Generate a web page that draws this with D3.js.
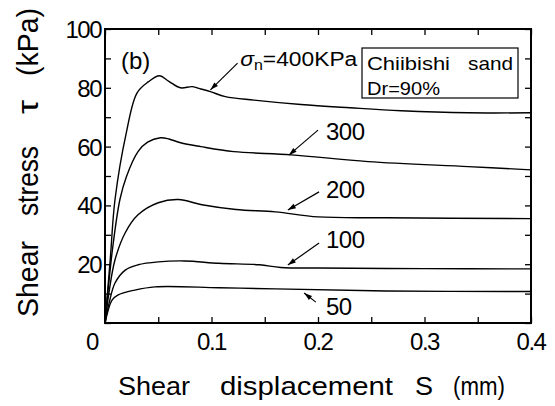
<!DOCTYPE html>
<html><head><meta charset="utf-8">
<script src="https://cdn.jsdelivr.net/npm/d3@7"></script>
<style>
body{margin:0;background:#fff;}
text{font-family:"Liberation Sans",Arial,sans-serif;fill:#000;}
</style></head><body>
<svg id="c" width="555" height="406"></svg>
<script>
// Data (shear displacement S in mm, shear stress tau in kPa)
const s400 = [0,0.005,0.0094,0.02,0.03,0.0406,0.051,0.06,0.0708,0.082,0.09,0.099,0.113,0.14,0.184,0.23,0.278,0.341,0.4];
const t400 = [0,22,42,64.7,78.2,82,84.1,82.2,80,80.4,79.6,78.7,77,75.8,74.3,73.2,72.2,71.5,71.5];
const s300 = [0,0.007,0.014,0.02,0.031,0.04,0.052,0.06,0.071,0.09,0.121,0.175,0.247,0.341,0.4];
const t300 = [0,25,42,49.7,58.3,61.5,63,62.6,61.3,60,58.3,57.2,54.9,53.2,52.1];
const s200 = [0,0.004,0.0094,0.019,0.031,0.05,0.069,0.091,0.123,0.16,0.2,0.264,0.4];
const t200 = [0,11,21.5,30.7,36.8,40.9,42,40.2,38.6,37.8,36.1,35.8,35.5];
const s100 = [0,0.004,0.0094,0.019,0.031,0.05,0.075,0.107,0.145,0.165,0.2,0.3,0.4];
const t100 = [0,7,13.6,18,19.8,20.8,21.1,20.3,19.8,18.9,18.7,18.5,18.4];
const s50 = [0,0.0066,0.012,0.028,0.047,0.107,0.16,0.264,0.4];
const t50 = [0,7.8,9.5,11.2,12.3,12,11.6,10.9,10.7];

const xTickVals = [0,0.1,0.2,0.3,0.4];
const xTickLabels = ["0","0.1","0.2","0.3","0.4"];
const yTickVals = [20,40,60,80,100];
const yTickLabels = ["20","40","60","80","100"];

// Curve labels and their arrows (in data units)
const curveLabels = ["300","200","100","50"];
const labelS = [0.2075,0.2075,0.2075,0.2075];
const labelT = [62.2,42.5,25.5,2.7];
const arrFromS = [0.200,0.201,0.201,0.198];
const arrFromT = [65.6,44.6,27.2,7.1];
const arrToS = [0.1726,0.1717,0.1717,0.187];
const arrToT = [57.1,38.4,19.7,10.2];

const svg = d3.select("#c");
const L=105, R=531, T=29, B=323;
const x = d3.scaleLinear().domain([0,0.4]).range([L,R]);
const y = d3.scaleLinear().domain([0,100]).range([B,T]);

const defs = svg.append("defs");
defs.append("marker").attr("id","ah").attr("viewBox","0 0 10 10").attr("refX",10).attr("refY",5)
  .attr("markerWidth",10).attr("markerHeight",8).attr("markerUnits","userSpaceOnUse").attr("orient","auto")
  .append("path").attr("d","M0,1.8 L10,5 L0,8.2 Z").attr("fill","#000");

// Axes with inward ticks on all four sides
const minorX = d3.range(0,0.4001,0.05);
const minorY = d3.range(0,100.1,10);
const tk = g=>{g.select(".domain").remove();g.selectAll("line").attr("stroke-width",1.3);};
svg.append("g").attr("transform",`translate(0,${B})`).call(d3.axisBottom(x).tickValues(minorX).tickSize(-6).tickFormat("")).call(tk);
svg.append("g").attr("transform",`translate(0,${T})`).call(d3.axisTop(x).tickValues(minorX).tickSize(-6).tickFormat("")).call(tk);
svg.append("g").attr("transform",`translate(${L},0)`).call(d3.axisLeft(y).tickValues(minorY).tickSize(-6).tickFormat("")).call(tk);
svg.append("g").attr("transform",`translate(${R},0)`).call(d3.axisRight(y).tickValues(minorY).tickSize(-6).tickFormat("")).call(tk);

svg.append("rect").attr("x",L).attr("y",T).attr("width",R-L).attr("height",B-T)
  .attr("fill","none").attr("stroke","#000").attr("stroke-width",2);

// Tick labels
svg.append("g").selectAll("text").data(xTickVals).join("text")
  .attr("x",(d,i)=> i===0 ? x(d)-13 : x(d)).attr("y",B+27)
  .attr("text-anchor","middle").attr("font-size",24).attr("letter-spacing",-1.5)
  .text((d,i)=>xTickLabels[i]);
svg.append("g").selectAll("text").data(yTickVals).join("text")
  .attr("x",L-4).attr("y",d=>y(d)+9)
  .attr("text-anchor","end").attr("font-size",24).attr("letter-spacing",-1.5)
  .text((d,i)=>yTickLabels[i]);

// Axis titles (word-by-word placement to mimic the wide spacing)
const xWords = [["Shear",118,72],["displacement",220,173],["S",415,18],["(mm)",453,52]];
xWords.forEach(([w,px,len])=>svg.append("text").attr("x",px).attr("y",395).attr("font-size",25)
  .attr("textLength",len).attr("lengthAdjust","spacingAndGlyphs").text(w));
const yWords = [["Shear",-317,76],["stress",-216,70],["\u03C4",-114,14],["(kPa)",-76,68]];
yWords.forEach(([w,px,len])=>svg.append("text").attr("transform","translate(38,0) rotate(-90)")
  .attr("x",px).attr("y",0).attr("font-size",30)
  .attr("textLength",len).attr("lengthAdjust","spacingAndGlyphs").text(w));

// Curves
const series = [[s400,t400],[s300,t300],[s200,t200],[s100,t100],[s50,t50]];
const line = d3.line().x(d=>x(d[0])).y(d=>y(d[1])).curve(d3.curveCatmullRom.alpha(0.5));
svg.append("g").selectAll("path").data(series).join("path")
  .attr("d",d=>line(d[0].map((s,i)=>[s,d[1][i]])))
  .attr("fill","none").attr("stroke","#000").attr("stroke-width",1.4);

// (b)
svg.append("text").attr("x",121).attr("y",69).attr("font-size",24).text("(b)");

// 400 label
const t4 = svg.append("text").attr("x",x(0.127)).attr("y",y(87.4)).attr("font-size",20)
  .attr("textLength",117).attr("lengthAdjust","spacingAndGlyphs");
t4.append("tspan").attr("font-style","italic").text("\u03C3");
t4.append("tspan").attr("font-size",14).attr("dy",4).text("n");
t4.append("tspan").attr("dy",-4).text("=400KPa");
svg.append("line").attr("x1",x(0.1245)).attr("y1",y(88.4)).attr("x2",x(0.099)).attr("y2",y(79.3))
  .attr("stroke","#000").attr("stroke-width",1.2).attr("marker-end","url(#ah)");

// Other labels
curveLabels.forEach((lab,i)=>{
  svg.append("text").attr("x",x(labelS[i])).attr("y",y(labelT[i])).attr("font-size",24).attr("letter-spacing",-0.5).text(lab);
  svg.append("line").attr("x1",x(arrFromS[i])).attr("y1",y(arrFromT[i]))
    .attr("x2",x(arrToS[i])).attr("y2",y(arrToT[i]))
    .attr("stroke","#000").attr("stroke-width",1.2).attr("marker-end","url(#ah)");
});

// Info box
svg.append("rect").attr("x",362).attr("y",48).attr("width",156).attr("height",50)
  .attr("fill","#fff").attr("stroke","#000").attr("stroke-width",1.2);
svg.append("text").attr("x",367).attr("y",70).attr("font-size",19).attr("textLength",83).attr("lengthAdjust","spacingAndGlyphs").text("Chiibishi");
svg.append("text").attr("x",468).attr("y",70).attr("font-size",19).attr("textLength",45).attr("lengthAdjust","spacingAndGlyphs").text("sand");
svg.append("text").attr("x",367).attr("y",95).attr("font-size",19).attr("textLength",73).attr("lengthAdjust","spacingAndGlyphs").text("Dr=90%");
</script></body></html>
